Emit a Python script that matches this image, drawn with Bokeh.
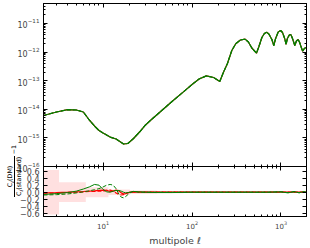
from bokeh.plotting import figure
from bokeh.models import (LogAxis, LinearAxis, FixedTicker, Range1d,
                          ColumnDataSource, Div)
from bokeh.layouts import column
from bokeh.embed import file_html
from bokeh.resources import INLINE

# ---------------- data ----------------
ell = [2.14, 3, 4, 5, 6, 7, 8, 9, 10, 12, 14, 17, 19, 22, 26, 30, 35, 40,
       60, 80, 100, 120, 145, 175, 205, 225, 250, 280, 310, 350, 395, 430,
       470, 530, 565, 610, 650, 690, 730, 790, 830, 870, 930, 990, 1040,
       1100, 1140, 1180, 1240, 1290, 1340, 1430, 1490, 1560, 1620, 1750,
       1830, 1935]
cl_std = [6.07e-15, 8.05e-15, 9.68e-15, 9.46e-15, 8.05e-15, 4.22e-15, 2.61e-15,
          1.82e-15, 1.48e-15, 1.07e-15, 9.16e-16, 6.12e-16, 6.37e-16, 9.53e-16,
          1.67e-15, 2.83e-15, 4.40e-15, 6.32e-15, 1.91e-14, 4.06e-14, 7.36e-14,
          1.15e-13, 1.48e-13, 1.29e-13, 9.37e-14, 1.94e-13, 3.99e-13, 1.14e-12,
          1.95e-12, 2.65e-12, 2.83e-12, 2.25e-12, 1.39e-12, 9.17e-13, 1.57e-12,
          3.24e-12, 4.47e-12, 4.97e-12, 4.29e-12, 2.76e-12, 1.70e-12, 2.99e-12,
          5.05e-12, 5.69e-12, 4.84e-12, 2.99e-12, 1.85e-12, 2.99e-12, 3.96e-12,
          4.12e-12, 3.11e-12, 1.70e-12, 2.44e-12, 2.76e-12, 2.17e-12, 1.07e-12,
          1.34e-12, 1.48e-12]

ell_r = [2.14, 3, 4, 5, 6, 7, 8, 9, 10, 11, 12, 13, 14, 15, 16, 17, 18, 20,
         22, 25, 30, 40, 60, 100, 200, 400, 700, 1000, 1200, 1400, 1600, 1800,
         1935]
green_solid = [-0.065, -0.04, -0.01, 0.03, 0.09, 0.15, 0.22, 0.20, 0.08, 0.01,
               0.0, 0.03, 0.05, 0.05, 0.03, 0.0, -0.02, 0.0, 0.02, 0.01,
               0.0, -0.01, -0.01, 0.0, 0.0, 0.0, 0.0, 0.01, -0.02, 0.02,
               -0.02, 0.02, -0.01]
green_dashed = [-0.08, -0.07, -0.05, -0.02, 0.01, 0.04, 0.07, 0.10, 0.15, 0.20,
                0.22, 0.20, 0.10, -0.05, -0.14, -0.16, -0.12, -0.02, 0.03, 0.0,
                0.0, 0.0, 0.0, 0.0, 0.0, 0.0, 0.0, 0.01, -0.01, 0.01,
                -0.01, 0.01, 0.0]
red_solid = [-0.02, -0.01, 0.0, 0.01, 0.02, 0.03, 0.04, 0.05, 0.06, 0.05,
             0.02, 0.03, 0.06, 0.04, -0.02, -0.05, -0.04, 0.0, 0.01, 0.0,
             0.0, 0.0, 0.0, 0.0, 0.0, 0.0, 0.0, 0.0, 0.0, 0.0,
             0.0, 0.0, 0.0]
red_dashed = [-0.03, -0.02, -0.01, 0.0, 0.01, 0.02, 0.02, 0.03, 0.03, 0.05,
              0.06, 0.03, -0.02, -0.06, -0.08, -0.07, -0.03, 0.0, 0.0, 0.0,
              0.0, 0.0, 0.0, 0.0, 0.0, 0.0, 0.0, 0.0, 0.0, 0.0,
              0.0, 0.0, 0.0]

box_lo = [2, 3.2, 6.4, 11.5, 20, 40, 80, 160, 320, 640, 1280]
box_hi = [3.2, 6.4, 11.5, 20, 40, 80, 160, 320, 640, 1280, 2000]
box_err = [0.63, 0.28, 0.14, 0.08, 0.05, 0.03, 0.02, 0.012, 0.008, 0.005, 0.004]

y_ticks_top = [1e-16, 1e-15, 1e-14, 1e-13, 1e-12, 1e-11]
y_ticks_bot = [-0.6, -0.4, -0.2, 0.0, 0.2, 0.4, 0.6]
x_ticks = [10, 100, 1000]

FONT = "DejaVu Sans"


def minor_log(d0, d1):
    return [m * 10.0 ** d for d in range(d0, d1 + 1) for m in range(2, 10)]


def style_axis(ax, ticks, labels=True, size="8px"):
    ax.major_tick_in = 4
    ax.major_tick_out = 0
    ax.minor_tick_in = 2
    ax.minor_tick_out = 0
    ax.axis_line_color = "black"
    ax.major_tick_line_color = "black"
    ax.minor_tick_line_color = "black"
    if labels:
        ax.major_label_text_font = FONT
        ax.major_label_text_font_size = size
        ax.major_label_standoff = 4
    else:
        ax.major_label_text_font_size = "1px"
        ax.major_label_standoff = 0
        ax.major_label_overrides = {t: "" for t in ticks}


x_range = Range1d(2.14, 1935)
xt = FixedTicker(ticks=x_ticks, minor_ticks=minor_log(0, 3))
yt = FixedTicker(ticks=y_ticks_top, minor_ticks=minor_log(-17, -11))
ytb = FixedTicker(ticks=y_ticks_bot, minor_ticks=[])

# ---------------- top panel ----------------
p1 = figure(width=310, height=174, x_axis_type="log", y_axis_type="log",
            x_range=x_range, y_range=Range1d(1e-16, 5.0e-11),
            output_backend="svg", toolbar_location=None,
            min_border_left=43, min_border_right=4, min_border_top=3,
            min_border_bottom=8)
p1.grid.visible = False
p1.outline_line_color = "black"
p1.xaxis.ticker = xt
p1.yaxis.ticker = yt
style_axis(p1.xaxis[0], x_ticks, labels=False)
style_axis(p1.yaxis[0], y_ticks_top, labels=True)
ax = LogAxis(ticker=xt); style_axis(ax, x_ticks, labels=False); p1.add_layout(ax, "above")
ay = LogAxis(ticker=yt); style_axis(ay, y_ticks_top, labels=False); p1.add_layout(ay, "right")

src = ColumnDataSource(dict(ell=ell, cl=cl_std))
p1.line("ell", "cl", source=src, line_color="red", line_width=1.2)
p1.line("ell", "cl", source=src, line_color="#008000", line_width=1.2)
p1.line("ell", "cl", source=src, line_color="#008000", line_width=1.2,
        line_dash="4 2")

# ---------------- bottom panel ----------------
p2 = figure(width=310, height=112, x_axis_type="log",
            x_range=x_range, y_range=Range1d(-0.69, 0.73),
            output_backend="svg", toolbar_location=None,
            min_border_left=43, min_border_right=4, min_border_top=30,
            min_border_bottom=27)
p2.margin = (-38, 0, 0, 0)
p2.border_fill_alpha = 0
p2.grid.visible = False
p2.outline_line_color = "black"
p2.xaxis.ticker = xt
p2.yaxis.ticker = ytb
style_axis(p2.xaxis[0], x_ticks, labels=True, size="7px")
style_axis(p2.yaxis[0], y_ticks_bot, labels=True)
p2.yaxis.major_label_overrides = {v: (f"{v:.1f}".replace("-", "\u2212")) for v in y_ticks_bot}
p2.xaxis.axis_label = "multipole \u2113"
p2.xaxis.axis_label_text_font = FONT
p2.xaxis.axis_label_text_font_style = "normal"
p2.xaxis.axis_label_text_font_size = "9.5px"
p2.xaxis.axis_label_standoff = 3
ax2 = LogAxis(ticker=xt); style_axis(ax2, x_ticks, labels=False); p2.add_layout(ax2, "above")
ay2 = LinearAxis(ticker=ytb); style_axis(ay2, y_ticks_bot, labels=False); p2.add_layout(ay2, "right")

bsrc = ColumnDataSource(dict(lo=box_lo, hi=box_hi,
                             top=box_err, bot=[-e for e in box_err]))
p2.quad(left="lo", right="hi", top="top", bottom="bot", source=bsrc,
        fill_color="red", fill_alpha=0.12, line_color=None)
rsrc = ColumnDataSource(dict(ell=ell_r, gs=green_solid, gd=green_dashed,
                             rs=red_solid, rd=red_dashed))
p2.line("ell", "rs", source=rsrc, line_color="red", line_width=1.2)
p2.line("ell", "rd", source=rsrc, line_color="red", line_width=1.2, line_dash="4 2")
p2.line("ell", "gs", source=rsrc, line_color="#008000", line_width=1.0)
p2.line("ell", "gd", source=rsrc, line_color="#008000", line_width=1.0, line_dash="4 2")

# ---------------- rotated fraction y-label of the bottom panel ----------------
ylabel_html = (
    '<div style="position:relative; left:-15.5px; top:20.5px; width:58px; height:18px;'
    ' transform:rotate(-90deg); display:flex; align-items:center; justify-content:center;'
    ' font-family:\'DejaVu Sans\'; font-size:6.3px; line-height:8px; color:black;'
    ' white-space:nowrap;">'
    '<div style="display:flex; flex-direction:column; align-items:center;">'
    '<span>C<sub style="font-size:4.5px; line-height:0;">\u2113</sub>(DM)</span>'
    '<span style="border-top:0.8px solid black; padding:0 1px;">'
    'C<sub style="font-size:4.5px; line-height:0;">\u2113</sub>(standard)</span>'
    '</div>'
    '<span style="margin-left:1.5px;">\u22121</span>'
    '</div>'
)
ylabel = Div(text=ylabel_html, width=30, height=70, margin=(-112, 0, 0, 0),
             styles={"overflow": "visible"})

layout = column(p1, p2, ylabel, spacing=0)
open("out.html", "w").write(file_html(layout, INLINE))
